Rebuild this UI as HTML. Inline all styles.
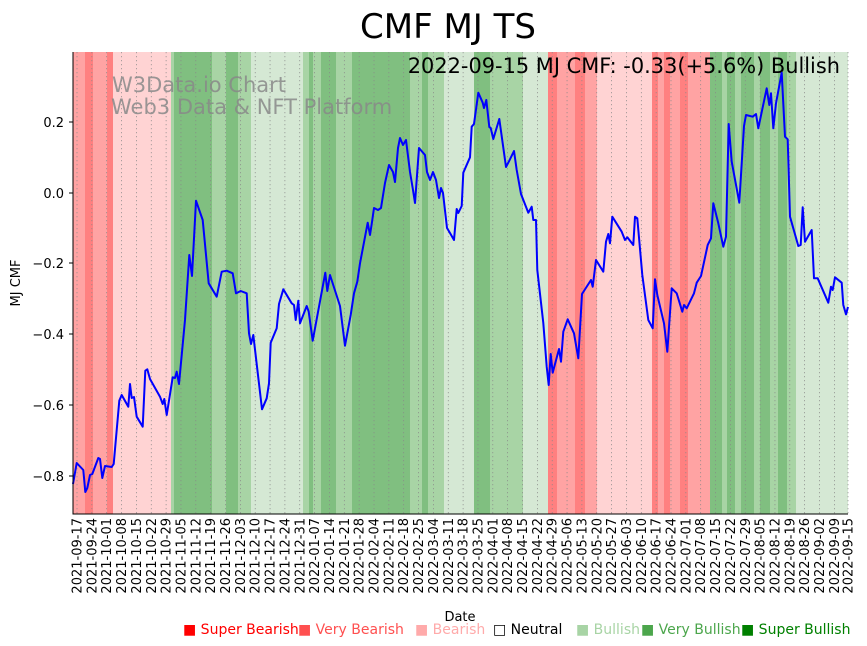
<!DOCTYPE html>
<html><head><meta charset="utf-8"><style>
html,body{margin:0;padding:0;background:#fff;}
svg{display:block;font-family:"DejaVu Sans","Liberation Sans",sans-serif;}
</style></head><body>
<svg width="867" height="646" viewBox="0 0 867 646" xmlns="http://www.w3.org/2000/svg">
<text x="448" y="38" font-size="34" text-anchor="middle" fill="#000">CMF MJ TS</text>
<g>
<rect x="73" y="52" width="12" height="462" fill="#ffa3a3"/>
<rect x="85" y="52" width="8" height="462" fill="#ff8080"/>
<rect x="93" y="52" width="14" height="462" fill="#ffa3a3"/>
<rect x="107" y="52" width="6" height="462" fill="#ff8080"/>
<rect x="113" y="52" width="58" height="462" fill="#ffd3d3"/>
<rect x="171" y="52" width="3" height="462" fill="#a8d4a5"/>
<rect x="174" y="52" width="38" height="462" fill="#80bf80"/>
<rect x="212" y="52" width="14" height="462" fill="#a8d4a5"/>
<rect x="226" y="52" width="12" height="462" fill="#80bf80"/>
<rect x="238" y="52" width="13" height="462" fill="#a8d4a5"/>
<rect x="251" y="52" width="52" height="462" fill="#d5e8d4"/>
<rect x="303" y="52" width="6" height="462" fill="#a8d4a5"/>
<rect x="309" y="52" width="4" height="462" fill="#80bf80"/>
<rect x="313" y="52" width="8" height="462" fill="#a8d4a5"/>
<rect x="321" y="52" width="15" height="462" fill="#80bf80"/>
<rect x="336" y="52" width="16" height="462" fill="#a8d4a5"/>
<rect x="352" y="52" width="58" height="462" fill="#80bf80"/>
<rect x="410" y="52" width="12" height="462" fill="#a8d4a5"/>
<rect x="422" y="52" width="6" height="462" fill="#80bf80"/>
<rect x="428" y="52" width="16" height="462" fill="#a8d4a5"/>
<rect x="444" y="52" width="30" height="462" fill="#d5e8d4"/>
<rect x="474" y="52" width="16" height="462" fill="#80bf80"/>
<rect x="490" y="52" width="33" height="462" fill="#a8d4a5"/>
<rect x="523" y="52" width="25" height="462" fill="#d5e8d4"/>
<rect x="548" y="52" width="9" height="462" fill="#ff8080"/>
<rect x="557" y="52" width="18" height="462" fill="#ffa3a3"/>
<rect x="575" y="52" width="10" height="462" fill="#ff8080"/>
<rect x="585" y="52" width="12" height="462" fill="#ffa3a3"/>
<rect x="597" y="52" width="55" height="462" fill="#ffd3d3"/>
<rect x="652" y="52" width="6" height="462" fill="#ff8080"/>
<rect x="658" y="52" width="6" height="462" fill="#ffa3a3"/>
<rect x="664" y="52" width="6" height="462" fill="#ff8080"/>
<rect x="670" y="52" width="10" height="462" fill="#ffa3a3"/>
<rect x="680" y="52" width="8" height="462" fill="#ff8080"/>
<rect x="688" y="52" width="22" height="462" fill="#ffa3a3"/>
<rect x="710" y="52" width="12" height="462" fill="#80bf80"/>
<rect x="722" y="52" width="5" height="462" fill="#a8d4a5"/>
<rect x="727" y="52" width="8" height="462" fill="#80bf80"/>
<rect x="735" y="52" width="6" height="462" fill="#a8d4a5"/>
<rect x="741" y="52" width="13" height="462" fill="#80bf80"/>
<rect x="754" y="52" width="6" height="462" fill="#a8d4a5"/>
<rect x="760" y="52" width="10" height="462" fill="#80bf80"/>
<rect x="770" y="52" width="8" height="462" fill="#a8d4a5"/>
<rect x="778" y="52" width="9" height="462" fill="#80bf80"/>
<rect x="787" y="52" width="9" height="462" fill="#a8d4a5"/>
<rect x="796" y="52" width="52" height="462" fill="#d5e8d4"/>
</g>
<g stroke="#888" stroke-width="0.7" stroke-dasharray="1.2,2.8">
<line x1="77" y1="52" x2="77" y2="514"/><line x1="91.85" y1="52" x2="91.85" y2="514"/><line x1="106.7" y1="52" x2="106.7" y2="514"/><line x1="121.55" y1="52" x2="121.55" y2="514"/><line x1="136.4" y1="52" x2="136.4" y2="514"/><line x1="151.25" y1="52" x2="151.25" y2="514"/><line x1="166.1" y1="52" x2="166.1" y2="514"/><line x1="180.95" y1="52" x2="180.95" y2="514"/><line x1="195.8" y1="52" x2="195.8" y2="514"/><line x1="210.65" y1="52" x2="210.65" y2="514"/><line x1="225.5" y1="52" x2="225.5" y2="514"/><line x1="240.35" y1="52" x2="240.35" y2="514"/><line x1="255.2" y1="52" x2="255.2" y2="514"/><line x1="270.05" y1="52" x2="270.05" y2="514"/><line x1="284.9" y1="52" x2="284.9" y2="514"/><line x1="299.75" y1="52" x2="299.75" y2="514"/><line x1="314.6" y1="52" x2="314.6" y2="514"/><line x1="329.45" y1="52" x2="329.45" y2="514"/><line x1="344.3" y1="52" x2="344.3" y2="514"/><line x1="359.15" y1="52" x2="359.15" y2="514"/><line x1="374" y1="52" x2="374" y2="514"/><line x1="388.85" y1="52" x2="388.85" y2="514"/><line x1="403.7" y1="52" x2="403.7" y2="514"/><line x1="418.55" y1="52" x2="418.55" y2="514"/><line x1="433.4" y1="52" x2="433.4" y2="514"/><line x1="448.25" y1="52" x2="448.25" y2="514"/><line x1="463.1" y1="52" x2="463.1" y2="514"/><line x1="477.95" y1="52" x2="477.95" y2="514"/><line x1="492.8" y1="52" x2="492.8" y2="514"/><line x1="507.65" y1="52" x2="507.65" y2="514"/><line x1="522.5" y1="52" x2="522.5" y2="514"/><line x1="537.35" y1="52" x2="537.35" y2="514"/><line x1="552.2" y1="52" x2="552.2" y2="514"/><line x1="567.05" y1="52" x2="567.05" y2="514"/><line x1="581.9" y1="52" x2="581.9" y2="514"/><line x1="596.75" y1="52" x2="596.75" y2="514"/><line x1="611.6" y1="52" x2="611.6" y2="514"/><line x1="626.45" y1="52" x2="626.45" y2="514"/><line x1="641.3" y1="52" x2="641.3" y2="514"/><line x1="656.15" y1="52" x2="656.15" y2="514"/><line x1="671" y1="52" x2="671" y2="514"/><line x1="685.85" y1="52" x2="685.85" y2="514"/><line x1="700.7" y1="52" x2="700.7" y2="514"/><line x1="715.55" y1="52" x2="715.55" y2="514"/><line x1="730.4" y1="52" x2="730.4" y2="514"/><line x1="745.25" y1="52" x2="745.25" y2="514"/><line x1="760.1" y1="52" x2="760.1" y2="514"/><line x1="774.95" y1="52" x2="774.95" y2="514"/><line x1="789.8" y1="52" x2="789.8" y2="514"/><line x1="804.65" y1="52" x2="804.65" y2="514"/><line x1="819.5" y1="52" x2="819.5" y2="514"/><line x1="834.35" y1="52" x2="834.35" y2="514"/><line x1="848" y1="52" x2="848" y2="514"/>
</g>
<g font-size="21" fill="#888" fill-opacity="0.85">
<text x="112" y="92">W3Data.io Chart</text>
<text x="111" y="114">Web3 Data &amp; NFT Platform</text>
</g>
<text x="840" y="73" font-size="20.9" text-anchor="end" fill="#000">2022-09-15 MJ CMF: -0.33(+5.6%) Bullish</text>
<polyline fill="none" stroke="#0000ff" stroke-width="2" stroke-linejoin="round" points="73,484 76.7,463 83.3,470 85.3,492 87.3,488 90,475 92.3,474 98.3,458 100,459 102.3,478 105,466 111.7,467 113.7,464 119.3,400.7 121.7,395 128.3,406.7 130,384 131.7,398 134,397 136.7,416.7 142.7,426.7 145.3,370.7 147.3,369.3 150,379 160,396.7 162.7,404 164.3,399 166.7,415 172.7,377.3 175,378 176.7,371.7 179,384 185,320 189.3,255 192,276 196,200.7 202.7,220 208.7,283.3 216.7,296.7 221.7,271.7 226.7,270.7 232.7,273.3 236,293.3 240.7,291 246.7,293.3 249,333.3 251,344 253.3,335 262,409.3 266.7,398.3 269,383.3 270.7,342.7 276.7,328.3 279,304 283.3,289.3 291.7,303.3 294,305 295.7,320 298.3,300.7 300,323.3 306.7,306 308.7,311.7 312.7,340.7 325.3,272.7 327.3,291 330,275 340,306 345,345.7 350.7,315 354,293.3 357.3,281.7 360,263.3 367.7,222.7 370,235 372,222 374,208 378,210 381,208 385,183 389,165 393,172 395,182 398,148 400,138 403,145 406,140 410,172 413,190 415,203 419,148 425,155 427,172 430,180 433,172 436,180 439,198 441,188 443,193 447,228 450,233 454,240 456.7,209 458.3,213 461.7,206 463.3,172.7 470,157.3 471.7,126.7 474,124 478.3,92.7 482.7,102.7 484,108 486.3,100 489.3,127 490.7,128 493.3,139 499.3,119 506,167 509.3,160.7 514,151 516.7,170 521,194 528.3,212.7 531.7,206.7 533.3,220 536,220 537.3,270 543.3,323 546.7,366.7 548.7,385 550.7,354 552.7,372.7 559,349 561,361.7 563.3,331.7 567.7,319.3 574,333.3 578.3,358.3 582,294 591,280 592.7,286.7 596,260 603.3,271.7 606,241.7 608.3,234 610,243.3 612.3,216.7 621.7,231.7 625,240 627.3,237.3 633.3,245 635,216.7 637.3,218.3 642.3,275 648.3,320 652.7,328.3 655,279.3 657.3,295 664,323.3 667.3,351.7 671.7,288.3 676.7,293.3 682.3,311.7 684,305 686.7,308.3 694,293.3 696.7,282.7 701,276 707.7,245 711,238.3 713.3,203.3 718.3,223.3 723.3,246.7 726,236.7 728.7,124 731.7,161.7 739.3,202.7 744,126 746,115 752.7,116.7 756,114 758.3,128.3 766.7,88.3 769.3,105 771,93.3 773.3,128.3 776,103.3 781.7,72.7 785,136.7 787.7,139.3 790,216.7 798.3,246 800.7,245 802.7,207.3 805,241.7 811.7,230 814,278.3 817.7,278.3 828.3,302.7 831,286.7 832.7,290 835,277.3 841.7,282.7 843.3,305 846,314.3 848,307"/>
<g stroke="#000" stroke-width="1">
<line x1="73" y1="52" x2="73" y2="514.5"/>
<line x1="72.5" y1="514" x2="848" y2="514"/>
<line x1="69" y1="122" x2="73" y2="122"/><line x1="69" y1="193" x2="73" y2="193"/><line x1="69" y1="263" x2="73" y2="263"/><line x1="69" y1="334" x2="73" y2="334"/><line x1="69" y1="405" x2="73" y2="405"/><line x1="69" y1="476" x2="73" y2="476"/>
</g>
<g font-size="13" text-anchor="end" fill="#000">
<text x="64" y="127">0.2</text><text x="64" y="198">0.0</text><text x="64" y="268">−0.2</text><text x="64" y="339">−0.4</text><text x="64" y="410">−0.6</text><text x="64" y="481">−0.8</text>
</g>
<text transform="translate(20,283) rotate(-90)" font-size="13" text-anchor="middle">MJ CMF</text>
<g font-size="13" text-anchor="end" fill="#000">
<text transform="translate(81.5,518) rotate(-90)">2021-09-17</text>
<text transform="translate(96.35,518) rotate(-90)">2021-09-24</text>
<text transform="translate(111.2,518) rotate(-90)">2021-10-01</text>
<text transform="translate(126.05,518) rotate(-90)">2021-10-08</text>
<text transform="translate(140.9,518) rotate(-90)">2021-10-15</text>
<text transform="translate(155.75,518) rotate(-90)">2021-10-22</text>
<text transform="translate(170.6,518) rotate(-90)">2021-10-29</text>
<text transform="translate(185.45,518) rotate(-90)">2021-11-05</text>
<text transform="translate(200.3,518) rotate(-90)">2021-11-12</text>
<text transform="translate(215.15,518) rotate(-90)">2021-11-19</text>
<text transform="translate(230,518) rotate(-90)">2021-11-26</text>
<text transform="translate(244.85,518) rotate(-90)">2021-12-03</text>
<text transform="translate(259.7,518) rotate(-90)">2021-12-10</text>
<text transform="translate(274.55,518) rotate(-90)">2021-12-17</text>
<text transform="translate(289.4,518) rotate(-90)">2021-12-24</text>
<text transform="translate(304.25,518) rotate(-90)">2021-12-31</text>
<text transform="translate(319.1,518) rotate(-90)">2022-01-07</text>
<text transform="translate(333.95,518) rotate(-90)">2022-01-14</text>
<text transform="translate(348.8,518) rotate(-90)">2022-01-21</text>
<text transform="translate(363.65,518) rotate(-90)">2022-01-28</text>
<text transform="translate(378.5,518) rotate(-90)">2022-02-04</text>
<text transform="translate(393.35,518) rotate(-90)">2022-02-11</text>
<text transform="translate(408.2,518) rotate(-90)">2022-02-18</text>
<text transform="translate(423.05,518) rotate(-90)">2022-02-25</text>
<text transform="translate(437.9,518) rotate(-90)">2022-03-04</text>
<text transform="translate(452.75,518) rotate(-90)">2022-03-11</text>
<text transform="translate(467.6,518) rotate(-90)">2022-03-18</text>
<text transform="translate(482.45,518) rotate(-90)">2022-03-25</text>
<text transform="translate(497.3,518) rotate(-90)">2022-04-01</text>
<text transform="translate(512.15,518) rotate(-90)">2022-04-08</text>
<text transform="translate(527,518) rotate(-90)">2022-04-15</text>
<text transform="translate(541.85,518) rotate(-90)">2022-04-22</text>
<text transform="translate(556.7,518) rotate(-90)">2022-04-29</text>
<text transform="translate(571.55,518) rotate(-90)">2022-05-06</text>
<text transform="translate(586.4,518) rotate(-90)">2022-05-13</text>
<text transform="translate(601.25,518) rotate(-90)">2022-05-20</text>
<text transform="translate(616.1,518) rotate(-90)">2022-05-27</text>
<text transform="translate(630.95,518) rotate(-90)">2022-06-03</text>
<text transform="translate(645.8,518) rotate(-90)">2022-06-10</text>
<text transform="translate(660.65,518) rotate(-90)">2022-06-17</text>
<text transform="translate(675.5,518) rotate(-90)">2022-06-24</text>
<text transform="translate(690.35,518) rotate(-90)">2022-07-01</text>
<text transform="translate(705.2,518) rotate(-90)">2022-07-08</text>
<text transform="translate(720.05,518) rotate(-90)">2022-07-15</text>
<text transform="translate(734.9,518) rotate(-90)">2022-07-22</text>
<text transform="translate(749.75,518) rotate(-90)">2022-07-29</text>
<text transform="translate(764.6,518) rotate(-90)">2022-08-05</text>
<text transform="translate(779.45,518) rotate(-90)">2022-08-12</text>
<text transform="translate(794.3,518) rotate(-90)">2022-08-19</text>
<text transform="translate(809.15,518) rotate(-90)">2022-08-26</text>
<text transform="translate(824,518) rotate(-90)">2022-09-02</text>
<text transform="translate(838.85,518) rotate(-90)">2022-09-09</text>
<text transform="translate(852.5,518) rotate(-90)">2022-09-15</text>
</g>
<text x="460" y="621" font-size="13" text-anchor="middle">Date</text>
<g font-size="14">
<text x="183" y="634" fill="#ff0000">■ Super Bearish</text>
<text x="298" y="634" fill="#ff5050">■ Very Bearish</text>
<text x="415" y="634" fill="#ffaaaa">■ Bearish</text>
<text x="493" y="634" fill="#000">□ Neutral</text>
<text x="576" y="634" fill="#a8d4a5">■ Bullish</text>
<text x="641" y="634" fill="#4ca64c">■ Very Bullish</text>
<text x="741" y="634" fill="#008000">■ Super Bullish</text>
</g>
</svg>
</body></html>
